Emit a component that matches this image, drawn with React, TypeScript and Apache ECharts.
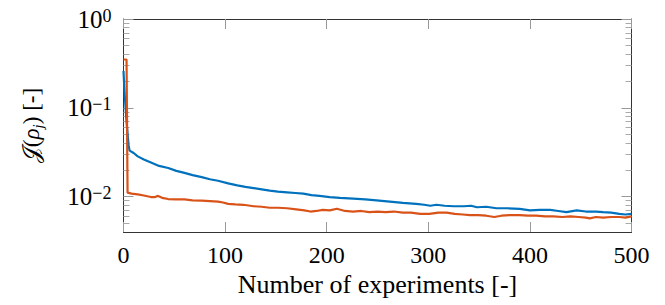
import React, { useEffect, useRef } from 'react';
import * as echarts from 'echarts';

const blueSteps = [0, 1, 3, 5, 6, 10, 14, 20, 27, 35, 44, 52, 60, 68, 77, 85, 93, 103, 112, 120, 128, 136, 144, 152, 161, 169, 177, 185, 193, 203, 213, 226, 238, 249, 262, 275, 288, 296, 302, 308, 316, 325, 335, 342, 348, 357, 367, 378, 390, 400, 410, 420, 428, 436, 446, 455, 465, 472, 480, 488, 494, 500];
const blueValues = [0.26, 0.15, 0.07, 0.038, 0.033, 0.031, 0.0284, 0.0262, 0.0243, 0.0222, 0.021, 0.0195, 0.0185, 0.0175, 0.0166, 0.0157, 0.0151, 0.0141, 0.0134, 0.0129, 0.0125, 0.0121, 0.0117, 0.0114, 0.0112, 0.011, 0.0108, 0.0104, 0.0102, 0.0099, 0.0097, 0.0095, 0.0093, 0.0091, 0.0088, 0.0085, 0.0083, 0.0081, 0.0079, 0.0081, 0.0079, 0.0078, 0.0078, 0.0079, 0.0076, 0.0077, 0.0074, 0.0074, 0.0073, 0.007, 0.0071, 0.0071, 0.0069, 0.0067, 0.007, 0.0068, 0.0068, 0.0067, 0.0066, 0.0064, 0.0063, 0.0064];

const orangeSteps = [0, 3, 4, 8, 14, 20, 27, 31, 34, 38, 44, 52, 60, 68, 77, 85, 93, 98, 103, 110, 118, 128, 136, 144, 152, 161, 170, 178, 184, 190, 196, 203, 210, 218, 226, 234, 242, 250, 258, 266, 275, 283, 292, 301, 310, 318, 326, 334, 341, 349, 357, 365, 372, 380, 390, 398, 406, 415, 423, 432, 440, 448, 455, 459, 465, 472, 480, 488, 494, 500];
const orangeValues = [0.35, 0.35, 0.0111, 0.0108, 0.0106, 0.0103, 0.0099, 0.0099, 0.0102, 0.0097, 0.0094, 0.0093, 0.0093, 0.0091, 0.009, 0.0089, 0.0088, 0.0086, 0.0083, 0.0082, 0.0081, 0.0078, 0.0077, 0.0075, 0.0075, 0.0074, 0.0072, 0.007, 0.0068, 0.0069, 0.0071, 0.007, 0.0073, 0.0069, 0.0068, 0.0069, 0.0067, 0.0068, 0.0067, 0.0068, 0.0066, 0.0066, 0.0064, 0.0064, 0.0066, 0.0066, 0.0064, 0.0063, 0.0062, 0.0062, 0.0061, 0.0059, 0.0061, 0.0062, 0.0062, 0.0061, 0.0061, 0.006, 0.006, 0.0059, 0.006, 0.0059, 0.0058, 0.0057, 0.0059, 0.0058, 0.0059, 0.0059, 0.0058, 0.006];

const xTicks = [0, 100, 200, 300, 400, 500];
const yMajorTicks = [0.01, 0.1, 1];
const yMinorTicks = [
  0.005, 0.006, 0.007, 0.008, 0.009,
  0.02, 0.03, 0.04, 0.05, 0.06, 0.07, 0.08, 0.09,
  0.2, 0.3, 0.4, 0.5, 0.6, 0.7, 0.8, 0.9,
];

const SERIF = 'Liberation Serif';
const AXIS_COLOR = '#333';
const TICK_COLOR = '#999';
const MINOR_COLOR = '#aaa';

const zip = (xs: number[], ys: number[]) => xs.map((x, i) => [x, ys[i]]);

export default function App() {
  const ref = useRef<HTMLDivElement>(null);

  useEffect(() => {
    if (!ref.current) return;
    const chart = echarts.init(ref.current, undefined, { renderer: 'svg' });

    const yLabelFormatter = (v: number) => {
      const e = Math.round(Math.log10(v));
      return `{a|10}{b|${e < 0 ? '\u2212' + -e : e}}`;
    };

    const xBase = {
      type: 'value' as const,
      min: 0,
      max: 500,
      interval: 100,
      axisLine: { show: true, lineStyle: { color: AXIS_COLOR, width: 1 } },
      axisTick: { show: true, inside: true, length: 10, lineStyle: { color: TICK_COLOR, width: 1 } },
      splitLine: { show: false },
    };

    const yBase = {
      type: 'log' as const,
      logBase: 10,
      min: 0.004,
      max: 1,
      splitLine: { show: false },
      minorTick: { show: false },
    };

    chart.setOption({
      animation: false,
      backgroundColor: '#fff',
      textStyle: { fontFamily: SERIF },
      grid: { left: 123.5, right: 33.5, top: 19, bottom: 73, containLabel: false },
      xAxis: [
        {
          ...xBase,
          position: 'bottom',
          axisLabel: {
            show: true,
            customValues: xTicks,
            fontFamily: SERIF,
            fontSize: 24,
            color: '#000',
            margin: 11,
          },
          name: 'Number of experiments [-]',
          nameLocation: 'middle',
          nameGap: 38,
          nameTextStyle: { fontFamily: SERIF, fontSize: 26, color: '#000' },
        },
        {
          ...xBase,
          position: 'top',
          axisLabel: { show: false },
        },
      ],
      yAxis: [
        {
          ...yBase,
          position: 'left',
          axisLine: { show: true, lineStyle: { color: AXIS_COLOR, width: 1 } },
          axisTick: { show: true, inside: true, length: 10, customValues: yMajorTicks, lineStyle: { color: TICK_COLOR } },
          axisLabel: {
            show: true,
            customValues: yMajorTicks,
            formatter: yLabelFormatter,
            margin: 12,
            fontFamily: SERIF,
            rich: {
              a: { fontFamily: SERIF, fontSize: 25, color: '#000', lineHeight: 25, verticalAlign: 'bottom' },
              b: { fontFamily: SERIF, fontSize: 18, color: '#000', lineHeight: 18, verticalAlign: 'top' },
            },
          },
          name: '{c|\uD835\uDCA5}{a|(}{r|\u03C1}{s|j}{a|) [-]}',
          nameLocation: 'middle',
          nameGap: 78,
          nameRotate: 90,
          nameTextStyle: {
            fontFamily: SERIF,
            fontSize: 23,
            color: '#000',
            rich: {
              c: { fontFamily: SERIF, fontSize: 23, color: '#000', lineHeight: 28 },
              a: { fontFamily: SERIF, fontSize: 23, color: '#000', lineHeight: 28 },
              r: { fontFamily: SERIF, fontSize: 23, fontStyle: 'italic', color: '#000', lineHeight: 28 },
              s: { fontFamily: SERIF, fontSize: 15, fontStyle: 'italic', color: '#000', lineHeight: 17, verticalAlign: 'bottom' },
            },
          },
        },
        {
          ...yBase,
          position: 'left',
          axisLine: { show: false },
          axisTick: { show: true, inside: true, length: 6, customValues: yMinorTicks, lineStyle: { color: MINOR_COLOR } },
          axisLabel: { show: false },
        },
        {
          ...yBase,
          position: 'right',
          axisLine: { show: true, lineStyle: { color: AXIS_COLOR, width: 1 } },
          axisTick: { show: true, inside: true, length: 10, customValues: yMajorTicks, lineStyle: { color: TICK_COLOR } },
          axisLabel: { show: false },
        },
        {
          ...yBase,
          position: 'right',
          axisLine: { show: false },
          axisTick: { show: true, inside: true, length: 6, customValues: yMinorTicks, lineStyle: { color: MINOR_COLOR } },
          axisLabel: { show: false },
        },
      ],
      series: [
        {
          type: 'line',
          xAxisIndex: 0,
          yAxisIndex: 0,
          data: zip(blueSteps, blueValues),
          showSymbol: false,
          symbol: 'none',
          lineStyle: { color: '#0072BD', width: 2.2 },
          itemStyle: { color: '#0072BD' },
        },
        {
          type: 'line',
          xAxisIndex: 0,
          yAxisIndex: 0,
          data: zip(orangeSteps, orangeValues),
          showSymbol: false,
          symbol: 'none',
          lineStyle: { color: '#D95319', width: 2.2 },
          itemStyle: { color: '#D95319' },
        },
      ],
    });

    return () => chart.dispose();
  }, []);

  return <div ref={ref} style={{ width: 665, height: 305, position: 'fixed', left: 0, top: 0 }} />;
}
